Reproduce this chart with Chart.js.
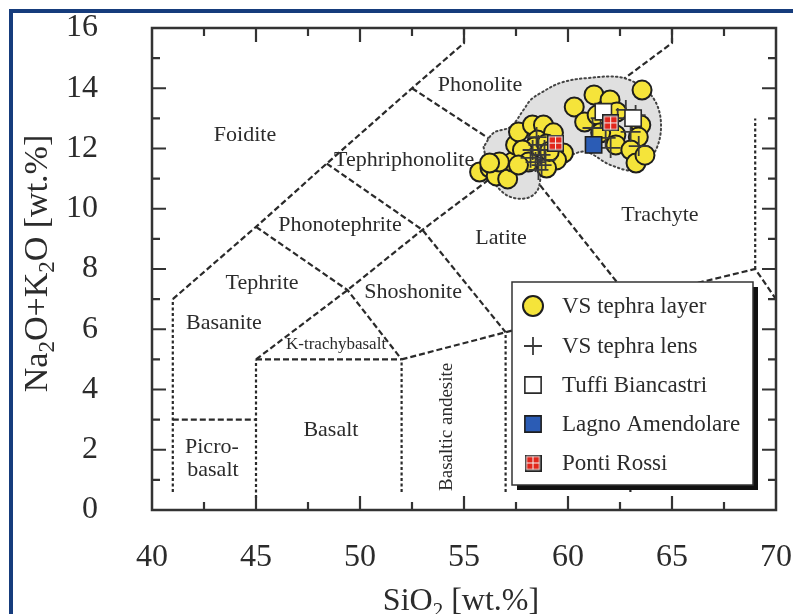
<!DOCTYPE html>
<html><head><meta charset="utf-8">
<script src="https://cdn.jsdelivr.net/npm/chart.js@4.4.1/dist/chart.umd.min.js"></script>
<style>html,body{margin:0;padding:0;background:#fff}#wrap{width:793px;height:614px}</style>
</head><body><div id="wrap"><canvas id="c" width="793" height="614"></canvas></div>
<script>
// ---- axis ranges / ticks ----
const xRange = [40, 70];
const yRange = [0, 16];
const xTickStep = 5;
const yTickStep = 2;

// ---- sample data [SiO2, Na2O+K2O] ----
const vsTephraLayer = [
  [55.75,11.22],[56.25,11.35],[56.55,11.09],[57.10,10.99],[57.33,11.55],[56.70,11.55],
  [56.23,11.52],[57.48,12.12],[57.62,12.55],[58.29,12.78],[58.82,12.78],[59.30,12.52],
  [58.53,12.28],[58.39,12.05],[58.96,12.15],[59.78,11.85],[59.45,11.62],[58.97,11.35],
  [57.81,11.95],[58.10,11.55],[57.62,11.45],[59.10,11.90],
  [60.30,13.38],[61.25,13.78],[62.02,13.61],[63.56,13.94],[60.80,12.88],[61.40,13.11],
  [62.35,13.21],[62.30,12.45],[63.50,12.78],[63.38,12.38],[62.30,12.12],[63.02,11.95],
  [63.27,11.52],[63.70,11.78],[61.57,12.52]
];
const vsTephraLens = [
  [58.30,11.95],[58.58,12.12],[58.68,11.79],[58.44,11.55],[58.73,11.45],[58.92,11.62],
  [58.20,11.69],[58.58,11.29],[58.49,12.38],[58.87,11.95],
  [61.18,12.68],[61.57,13.01],[62.39,13.01],[62.78,13.28],[63.01,12.55],[63.40,12.08],
  [62.05,12.02],[63.25,13.11],[61.81,12.35]
];
const tuffiBiancastri = [[61.70,13.22],[63.13,13.01]];
const lagnoAmendolare = [[61.23,12.12]];
const pontiRossi = [[62.05,12.85],[59.40,12.18]];

// grey field enclosing the samples
const sampleField = [
  [55.94,12.05],[56.18,11.29],[56.61,10.72],[57.24,10.39],[58.05,10.36],[58.54,10.62],
  [58.83,11.29],[59.98,11.72],[60.85,11.89],[62.05,11.45],[63.25,11.29],[64.22,11.95],
  [64.46,12.95],[63.98,13.78],[62.68,14.34],[60.94,14.34],[59.64,14.18],[58.68,13.84],
  [58.20,13.61],[57.86,13.28],[57.24,12.72],[56.42,12.52],[55.94,12.05]
];

// ---- TAS field boundaries ----
const dashedBoundaries = [
  [[41,7],[45,9.4],[48.4,11.5],[52.5,14],[55,15.5],[55,16]],
  [[45,5],[49.4,7.3],[53,9.3],[57.6,11.7],[65,15.5],[65,16]],
  [[52,5],[57,5.9],[63,7],[69,8],[70,7]],
  [[45,9.4],[49.4,7.3],[52,5]],
  [[48.4,11.5],[53,9.3],[57,5.9]],
  [[52.5,14],[57.6,11.7],[63,7]],
  [[45,5],[52,5]],
  [[41,3],[45,3]]
];
const dottedBoundaries = [
  [[41,0.6],[41,7]],
  [[45,0.4],[45,5]],
  [[52,0.6],[52,5]],
  [[57,0.6],[57,5.9]],
  [[63,0.6],[63,7]],
  [[69,8],[69,13]]
];

// ---- field names ----
const fieldNames = ['Foidite','Phonolite','Tephriphonolite','Phonotephrite','Tephrite','Shoshonite','Latite','Trachyte','Basanite','K-trachybasalt','Basalt','Picro-','basalt','Basaltic andesite'];
const fieldX = [44.47,55.77,52.12,49.04,45.29,52.55,56.78,64.42,43.46,48.85,48.6,42.88,42.93,54.18];
const fieldY = [12.45,14.11,11.62,9.46,7.53,7.24,9.03,9.79,6.2,5.48,2.66,2.09,1.33,2.76];
const fieldSize = [22,22,22,22,22,22,22,22,22,17,22,22,22,19];
const fieldRot = [0,0,0,0,0,0,0,0,0,0,0,0,0,1];

const legendLabels = ['VS tephra layer','VS tephra lens','Tuffi Biancastri','Lagno Amendolare','Ponti Rossi'];

const toXY = a => a.map(p => ({x:p[0], y:p[1]}));
const SERIF = '"Liberation Serif","Times New Roman",serif';
const INK = '#2b2b2b';

function makePonti(){
  const c = document.createElement('canvas'); c.width = 17; c.height = 17;
  const g = c.getContext('2d');
  g.fillStyle = '#222'; g.fillRect(0,0,17,17);
  g.fillStyle = '#f4f4f4'; g.fillRect(1.5,1.5,14,14);
  g.fillStyle = '#e1261c';
  g.fillRect(2.5,2.5,5.5,5.5); g.fillRect(9,2.5,5.5,5.5);
  g.fillRect(2.5,9,5.5,5.5); g.fillRect(9,9,5.5,5.5);
  return c;
}
const pontiImg = makePonti();

const datasets = [];
dashedBoundaries.forEach(b => datasets.push({data:toXY(b), showLine:true, pointRadius:0, borderColor:'#2a2a2a', borderWidth:2.2, borderDash:[6,3], order:20, fill:false}));
dottedBoundaries.forEach(b => datasets.push({data:toXY(b), showLine:true, pointRadius:0, borderColor:'#2a2a2a', borderWidth:2.2, borderDash:[3,2.5], order:20, fill:false}));
datasets.push({data:toXY(sampleField), showLine:true, pointRadius:0, borderColor:'#444', borderWidth:2, borderDash:[1.5,3], borderCapStyle:'round', backgroundColor:'#e0e0e0', fill:'shape', tension:0.35, order:15});
datasets.push({label:legendLabels[0], data:toXY(vsTephraLayer), pointStyle:'circle', pointRadius:9.5, pointBackgroundColor:'#f5e43a', pointBorderColor:'#1e1e1e', pointBorderWidth:2, showLine:false, order:5});
datasets.push({label:legendLabels[1], data:toXY(vsTephraLens), pointStyle:'cross', pointRadius:10, pointBorderColor:'#3a3a3a', pointBorderWidth:1.8, showLine:false, order:4});
datasets.push({label:legendLabels[2], data:toXY(tuffiBiancastri), pointStyle:'rect', pointRadius:11.5, pointBackgroundColor:'#ffffff', pointBorderColor:'#2a2a2a', pointBorderWidth:1.6, showLine:false, order:3});
datasets.push({label:legendLabels[3], data:toXY(lagnoAmendolare), pointStyle:'rect', pointRadius:11.5, pointBackgroundColor:'#2b5cb5', pointBorderColor:'#1e1e1e', pointBorderWidth:1.6, showLine:false, order:2});
datasets.push({label:legendLabels[4], data:toXY(pontiRossi), pointStyle:pontiImg, pointRadius:9, showLine:false, order:1});

const framePlugin = {
  id:'frame',
  beforeDraw(chart){
    const ctx = chart.ctx;
    ctx.save();
    ctx.fillStyle = '#fff'; ctx.fillRect(0,0,chart.width,chart.height);
    ctx.fillStyle = '#163c7c';
    ctx.fillRect(9,9,4,chart.height);
    ctx.fillRect(9,9,chart.width,4);
    ctx.restore();
  },
  afterDatasetsDraw(chart){
    const ctx = chart.ctx, xs = chart.scales.x, ys = chart.scales.y, a = chart.chartArea;
    ctx.save();
    ctx.fillStyle = INK; ctx.textAlign = 'center'; ctx.textBaseline = 'middle';
    fieldNames.forEach((t,i) => {
      const px = xs.getPixelForValue(fieldX[i]), py = ys.getPixelForValue(fieldY[i]);
      ctx.font = fieldSize[i] + 'px ' + SERIF;
      if (fieldRot[i]) { ctx.save(); ctx.translate(px,py); ctx.rotate(-Math.PI/2); ctx.fillText(t,0,0); ctx.restore(); }
      else ctx.fillText(t,px,py);
    });
    ctx.strokeStyle = '#333'; ctx.lineWidth = 2.5;
    ctx.strokeRect(a.left, a.top, a.right-a.left, a.bottom-a.top);
    ctx.lineWidth = 2.2;
    for (let v = xRange[0]+2.5; v < xRange[1]; v += 2.5) {
      const px = xs.getPixelForValue(v), L = (v % 5 === 0) ? 14 : 8;
      ctx.beginPath(); ctx.moveTo(px,a.top); ctx.lineTo(px,a.top+L); ctx.moveTo(px,a.bottom); ctx.lineTo(px,a.bottom-L); ctx.stroke();
    }
    for (let v = yRange[0]+1; v < yRange[1]; v += 1) {
      const py = ys.getPixelForValue(v), L = (v % 2 === 0) ? 14 : 8;
      ctx.beginPath(); ctx.moveTo(a.left,py); ctx.lineTo(a.left+L,py); ctx.moveTo(a.right,py); ctx.lineTo(a.right-L,py); ctx.stroke();
    }
    ctx.restore();
  },
  afterDraw(chart){
    const ctx = chart.ctx;
    ctx.save();
    function runs(parts, big, small){
      let w = 0;
      parts.forEach(p => { ctx.font = p[1] ? small : big; w += ctx.measureText(p[0]).width; });
      return w;
    }
    function drawRuns(parts, x0, y0, big, small, sub){
      let x = x0;
      parts.forEach(p => { ctx.font = p[1] ? small : big; ctx.fillText(p[0], x, y0 + (p[1] ? sub : 0)); x += ctx.measureText(p[0]).width; });
    }
    ctx.fillStyle = INK; ctx.textAlign = 'left'; ctx.textBaseline = 'alphabetic';
    const bx = '32px ' + SERIF, sx = '21px ' + SERIF;
    const xt = [['SiO',0],['2',1],[' [wt.%]',0]];
    const wx = runs(xt, bx, sx);
    drawRuns(xt, 461 - wx/2, 610, bx, sx, 7);
    const by = '34px ' + SERIF, sy = '23px ' + SERIF;
    const yt = [['Na',0],['2',1],['O+K',0],['2',1],['O [wt.%]',0]];
    const wy = runs(yt, by, sy);
    ctx.save(); ctx.translate(47, 263.5); ctx.rotate(-Math.PI/2);
    drawRuns(yt, -wy/2, 0, by, sy, 7);
    ctx.restore();

    const lx = 512, ly = 282, lw = 241, lh = 203;
    ctx.fillStyle = '#111'; ctx.fillRect(lx+5, ly+5, lw, lh);
    ctx.fillStyle = '#fff'; ctx.fillRect(lx, ly, lw, lh);
    ctx.strokeStyle = '#333'; ctx.lineWidth = 1.5; ctx.strokeRect(lx, ly, lw, lh);
    const rows = [306, 346, 385, 424, 463];
    const marks = chart.data.datasets.filter(d => d.label);
    marks.forEach((d,i) => {
      const cx = 533, cy = rows[i];
      ctx.fillStyle = d.pointBackgroundColor || '#fff';
      ctx.strokeStyle = d.pointBorderColor || '#000';
      ctx.lineWidth = d.pointBorderWidth || 1;
      let r = d.pointRadius;
      if (d.pointStyle === 'circle') r = 10;
      if (d.pointStyle === 'cross') r = 9;
      if (d.pointStyle === 'rect') r = 11.5;
      Chart.helpers.drawPoint(ctx, {pointStyle:d.pointStyle, radius:r, rotation:0, borderWidth:ctx.lineWidth}, cx, cy);
      ctx.fillStyle = INK; ctx.font = '23px ' + SERIF; ctx.textAlign = 'left'; ctx.textBaseline = 'middle';
      ctx.fillText(d.label, 562, cy + 1);
    });
    ctx.restore();
  }
};

function zeroPad(s){ s.paddingLeft = 0; s.paddingRight = 0; s.paddingTop = 0; s.paddingBottom = 0; }

new Chart(document.getElementById('c'), {
  type:'scatter',
  data:{datasets},
  options:{
    responsive:false, animation:false, events:[],
    layout:{padding:{left:0, top:28, right:17, bottom:0}},
    plugins:{legend:{display:false}, tooltip:{enabled:false}},
    scales:{
      x:{type:'linear', min:xRange[0], max:xRange[1],
         ticks:{stepSize:xTickStep, padding:20, color:INK, font:{family:SERIF, size:32}},
         grid:{display:false}, border:{display:false},
         afterFit(s){ s.height = 104; zeroPad(s); }},
      y:{type:'linear', min:yRange[0], max:yRange[1],
         ticks:{stepSize:yTickStep, padding:46, color:INK, font:{family:SERIF, size:32}},
         grid:{display:false}, border:{display:false},
         afterFit(s){ s.width = 152; zeroPad(s); }}
    }
  },
  plugins:[framePlugin]
});
</script></body></html>
